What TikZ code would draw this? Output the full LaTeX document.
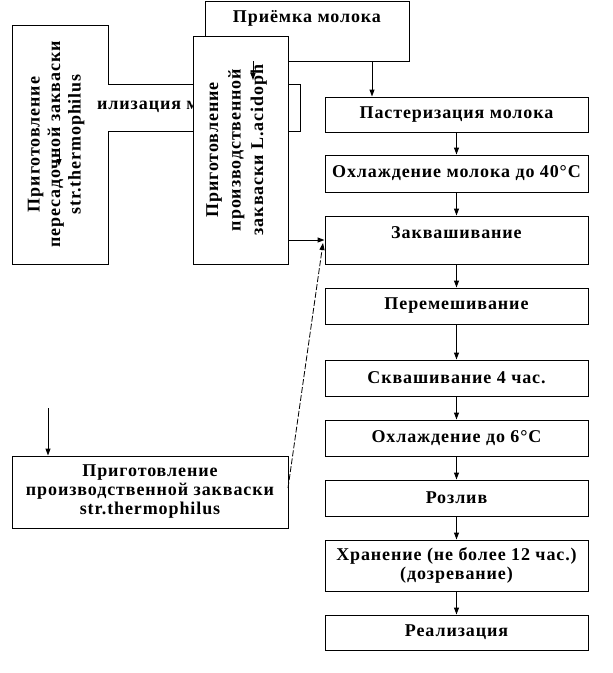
\documentclass[tikz,border=0pt]{standalone}
\usepackage{fontspec}
\setmainfont{Liberation Serif}[LetterSpace=5]
\usetikzlibrary{arrows.meta}
\tikzset{
  box/.style={draw, fill=white, line width=1pt, inner sep=0pt, font=\fontsize{18}{19}\selectfont\bfseries, align=center},
  txt/.style={inner sep=0pt, font=\fontsize{18}{19}\selectfont\bfseries, align=center},
  arr/.style={line width=1pt, -{Triangle[length=7pt,width=5pt]}},
  dasharr/.style={line width=0.8pt, dash pattern=on 6pt off 2pt, -{Triangle[length=7pt,width=5pt]}}
}
\begin{document}
\begin{tikzpicture}[x=1pt,y=-1pt]
\useasboundingbox (0,0) rectangle (613,673);
% Приёмка
\node[box, minimum width=204, minimum height=60] (priem) at (307,31) {};
\node[txt] (priemt) at (307,18.5) {Приёмка молока};
% left vertical box
\node[box, minimum width=96, minimum height=239] (leftbox) at (60,144.5)
  {\rotatebox{90}{\fontsize{18}{20.5}\selectfont\begin{tabular}{@{}c@{}}Приготовление\\пересадочной закваски\\str.thermophilus\end{tabular}}\hspace{8pt}};
% Стерилизация (partly hidden)
\fill[white] (90,84.5) rectangle (300,130.5);
\draw[line width=1pt] (108,84) -- (300,84) -- (300,131) -- (108,131);
\node[txt, anchor=west] (steril) at (97,107) {илизация м};
% middle vertical box
\node[box, minimum width=95, minimum height=228] (midbox) at (240.5,150)
  {\rotatebox{90}{\fontsize{18}{22.5}\selectfont\begin{tabular}{@{}c@{}}Приготовление\\производственной\\закваски L.acidoph\end{tabular}}\hspace{9pt}};
% right column
\node[box, minimum width=263, minimum height=35] (past) at (456.5,114.5) {Пастеризация молока};
\node[box, minimum width=263, minimum height=37] (cool) at (456.5,173.5) {Охлаждение молока до 40°C};
\node[box, minimum width=263, minimum height=48] (zakv) at (456.5,240) {};
\node[txt] (zakvt) at (456.5,233) {Заквашивание};
\node[box, minimum width=263, minimum height=36] (mix) at (456.5,306) {Перемешивание};
\node[box, minimum width=263, minimum height=36] (skv) at (456.5,378) {Сквашивание 4 час.};
\node[box, minimum width=263, minimum height=36] (cool6) at (456.5,438) {Охлаждение до 6°C};
\node[box, minimum width=263, minimum height=36] (rozliv) at (456.5,498) {Розлив};
\node[box, minimum width=263, minimum height=51] (hran) at (456.5,565.5) {Хранение (не более 12 час.)\\(дозревание)};
\node[box, minimum width=263, minimum height=35] (real) at (456.5,632.5) {Реализация};
% bottom-left box
\node[box, minimum width=276, minimum height=72] (prodst) at (150,492) {Приготовление\\производственной закваски\\str.thermophilus};
% arrows in column
\draw[arr] (372,61) -- (past.north -| 372,0);
\foreach \a/\b in {past/cool, cool/zakv, zakv/mix, mix/skv, skv/cool6, cool6/rozliv, rozliv/hran, hran/real}
  \draw[arr] (\a.south) -- (\b.north);
% side arrows
\draw[arr] (midbox.east |- 0,240) -- (zakv.west |- 0,240);
\coordinate (dstart) at (288,488);
\draw[dasharr] (dstart) -- (323,243);
\coordinate (topfree) at (48,408);
\draw[arr] (topfree) -- (prodst.north -| topfree);
% stray arrows
\coordinate (s1) at (59,148);
\draw[arr] (s1) -- (59,166);
\coordinate (s2) at (253,61);
\draw[arr] (s2) -- (253,80);
\end{tikzpicture}
\end{document}
